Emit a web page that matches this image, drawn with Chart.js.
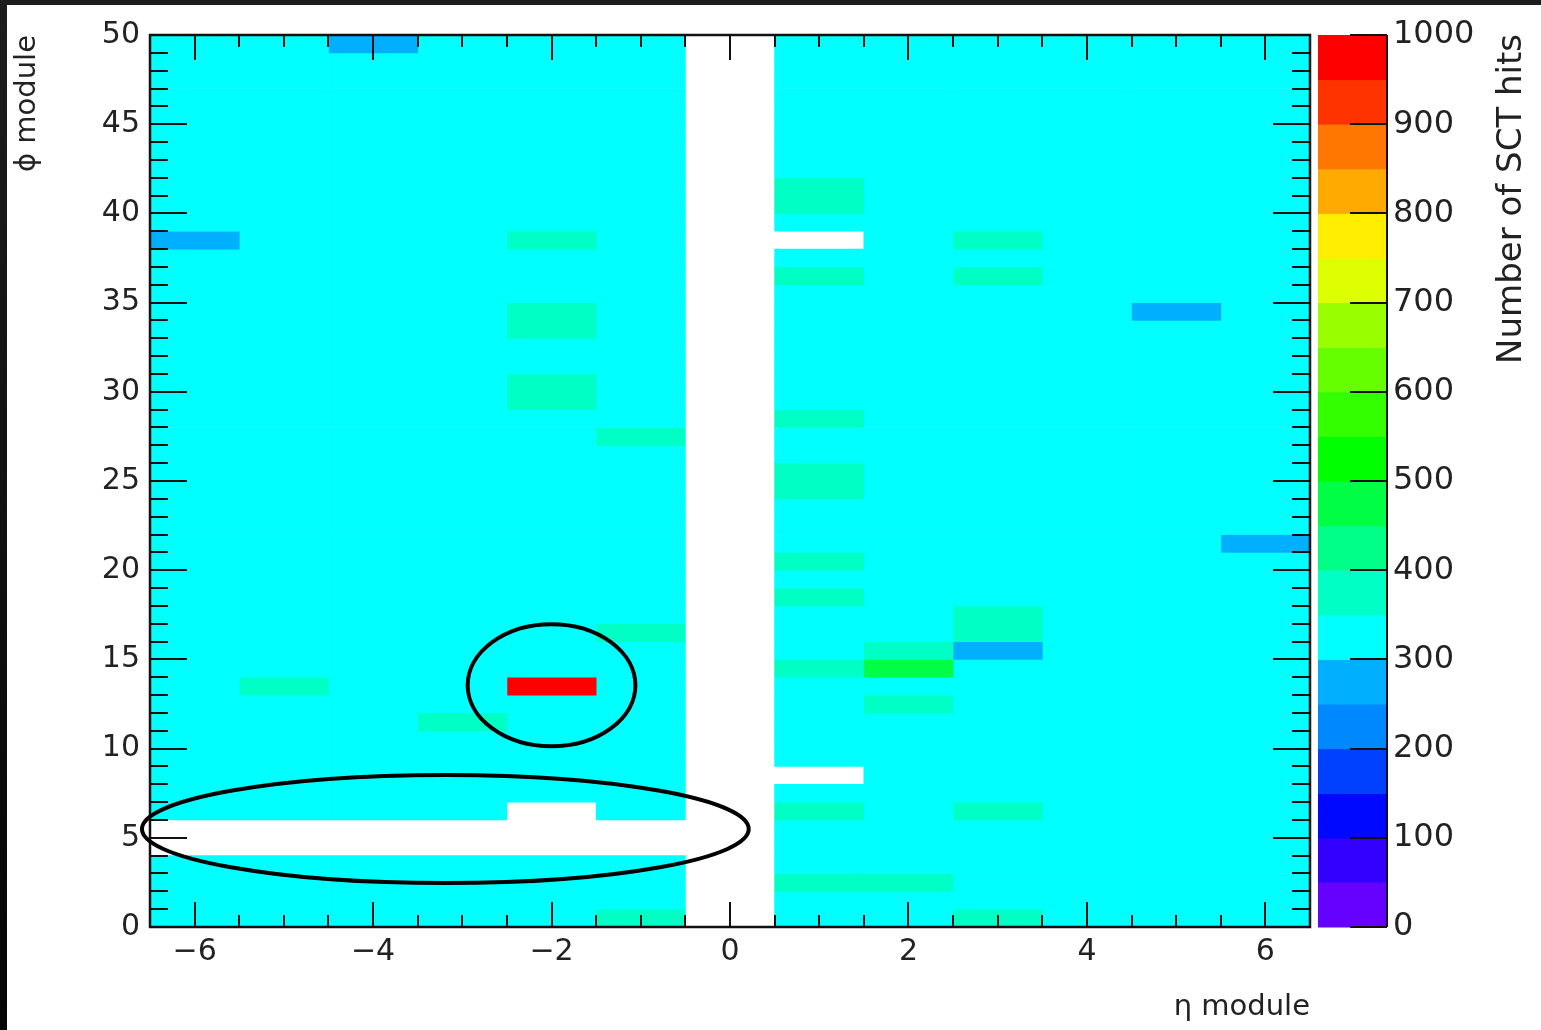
<!DOCTYPE html>
<html>
<head>
<meta charset="utf-8">
<script src="https://cdn.jsdelivr.net/npm/chart.js@4.4.1/dist/chart.umd.min.js"></script>
<style>
  html, body { margin: 0; padding: 0; background: #ffffff; }
  #wrap { position: relative; width: 1541px; height: 1030px; overflow: hidden; background: #ffffff; }
  #c { display: block; }
  .edgeTop { position: absolute; left: 0; top: 0; width: 1541px; height: 5px; background: #1d1d1d; }
  .edgeLeft { position: absolute; left: 0; top: 0; width: 7px; height: 1030px; background: linear-gradient(to bottom, #1d1d1d, #050505); }
</style>
</head>
<body>
<div id="wrap">
  <canvas id="c" width="1541" height="1030"></canvas>
  <div class="edgeTop"></div>
  <div class="edgeLeft"></div>
</div>
<script>
// ---------------- data ----------------
const etaBins = [-6, -5, -4, -3, -2, -1, 0, 1, 2, 3, 4, 5, 6];
const phiBins = [0, 1, 2, 3, 4, 5, 6, 7, 8, 9,
                 10, 11, 12, 13, 14, 15, 16, 17, 18, 19,
                 20, 21, 22, 23, 24, 25, 26, 27, 28, 29,
                 30, 31, 32, 33, 34, 35, 36, 37, 38, 39,
                 40, 41, 42, 43, 44, 45, 46, 47, 48, 49];

// Number of SCT hits per phi bin (index = phi 0..49); null = empty (white) bin
const hitsEtaM6 = [320, 320, 320, 320, null, null, 320, 320, 320, 320,
                   320, 320, 320, 320, 320, 320, 320, 320, 320, 320,
                   320, 320, 320, 320, 320, 320, 320, 320, 320, 320,
                   320, 320, 320, 320, 320, 320, 320, 320, 280, 320,
                   320, 320, 320, 320, 320, 320, 320, 320, 320, 320];
const hitsEtaM5 = [320, 320, 320, 320, null, null, 320, 320, 320, 320,
                   320, 320, 320, 370, 320, 320, 320, 320, 320, 320,
                   320, 320, 320, 320, 320, 320, 320, 320, 320, 320,
                   320, 320, 320, 320, 320, 320, 320, 320, 320, 320,
                   320, 320, 320, 320, 320, 320, 320, 320, 320, 320];
const hitsEtaM4 = [320, 320, 320, 320, null, null, 320, 320, 320, 320,
                   320, 320, 320, 320, 320, 320, 320, 320, 320, 320,
                   320, 320, 320, 320, 320, 320, 320, 320, 320, 320,
                   320, 320, 320, 320, 320, 320, 320, 320, 320, 320,
                   320, 320, 320, 320, 320, 320, 320, 320, 320, 280];
const hitsEtaM3 = [320, 320, 320, 320, null, null, 320, 320, 320, 320,
                   320, 370, 320, 320, 320, 320, 320, 320, 320, 320,
                   320, 320, 320, 320, 320, 320, 320, 320, 320, 320,
                   320, 320, 320, 320, 320, 320, 320, 320, 320, 320,
                   320, 320, 320, 320, 320, 320, 320, 320, 320, 320];
const hitsEtaM2 = [320, 320, 320, 320, null, null, null, 320, 320, 320,
                   320, 320, 320, 980, 320, 320, 320, 320, 320, 320,
                   320, 320, 320, 320, 320, 320, 320, 320, 320, 370,
                   370, 320, 320, 370, 370, 320, 320, 320, 370, 320,
                   320, 320, 320, 320, 320, 320, 320, 320, 320, 320];
const hitsEtaM1 = [370, 320, 320, 320, null, null, 320, 320, 320, 320,
                   320, 320, 320, 320, 320, 320, 370, 320, 320, 320,
                   320, 320, 320, 320, 320, 320, 320, 370, 320, 320,
                   320, 320, 320, 320, 320, 320, 320, 320, 320, 320,
                   320, 320, 320, 320, 320, 320, 320, 320, 320, 320];
const hitsEta0  = [null, null, null, null, null, null, null, null, null, null,
                   null, null, null, null, null, null, null, null, null, null,
                   null, null, null, null, null, null, null, null, null, null,
                   null, null, null, null, null, null, null, null, null, null,
                   null, null, null, null, null, null, null, null, null, null];
const hitsEta1  = [320, 320, 370, 320, 320, 320, 370, 320, null, 320,
                   320, 320, 320, 320, 370, 320, 320, 320, 370, 320,
                   370, 320, 320, 320, 370, 370, 320, 320, 370, 320,
                   320, 320, 320, 320, 320, 320, 370, 320, null, 320,
                   370, 370, 320, 320, 320, 320, 320, 320, 320, 320];
const hitsEta2  = [320, 320, 370, 320, 320, 320, 320, 320, 320, 320,
                   320, 320, 370, 320, 480, 370, 320, 320, 320, 320,
                   320, 320, 320, 320, 320, 320, 320, 320, 320, 320,
                   320, 320, 320, 320, 320, 320, 320, 320, 320, 320,
                   320, 320, 320, 320, 320, 320, 320, 320, 320, 320];
const hitsEta3  = [370, 320, 320, 320, 320, 320, 370, 320, 320, 320,
                   320, 320, 320, 320, 320, 280, 370, 370, 320, 320,
                   320, 320, 320, 320, 320, 320, 320, 320, 320, 320,
                   320, 320, 320, 320, 320, 320, 370, 320, 370, 320,
                   320, 320, 320, 320, 320, 320, 320, 320, 320, 320];
const hitsEta4  = [320, 320, 320, 320, 320, 320, 320, 320, 320, 320,
                   320, 320, 320, 320, 320, 320, 320, 320, 320, 320,
                   320, 320, 320, 320, 320, 320, 320, 320, 320, 320,
                   320, 320, 320, 320, 320, 320, 320, 320, 320, 320,
                   320, 320, 320, 320, 320, 320, 320, 320, 320, 320];
const hitsEta5  = [320, 320, 320, 320, 320, 320, 320, 320, 320, 320,
                   320, 320, 320, 320, 320, 320, 320, 320, 320, 320,
                   320, 320, 320, 320, 320, 320, 320, 320, 320, 320,
                   320, 320, 320, 320, 280, 320, 320, 320, 320, 320,
                   320, 320, 320, 320, 320, 320, 320, 320, 320, 320];
const hitsEta6  = [320, 320, 320, 320, 320, 320, 320, 320, 320, 320,
                   320, 320, 320, 320, 320, 320, 320, 320, 320, 320,
                   320, 280, 320, 320, 320, 320, 320, 320, 320, 320,
                   320, 320, 320, 320, 320, 320, 320, 320, 320, 320,
                   320, 320, 320, 320, 320, 320, 320, 320, 320, 320];

const hitsByEta = [hitsEtaM6, hitsEtaM5, hitsEtaM4, hitsEtaM3, hitsEtaM2, hitsEtaM1,
                   hitsEta0, hitsEta1, hitsEta2, hitsEta3, hitsEta4, hitsEta5, hitsEta6];

// colour scale (z axis): 20 bands of 50 hits
const zTickValues = [0, 100, 200, 300, 400, 500, 600, 700, 800, 900, 1000];
const paletteEdges = [0, 50, 100, 150, 200, 250, 300, 350, 400, 450, 500,
                      550, 600, 650, 700, 750, 800, 850, 900, 950, 1000];
const paletteColors = ['#6600ff', '#3300ff', '#0008ff', '#0040ff', '#0088ff',
                       '#00b0ff', '#00ffff', '#00ffc4', '#00ff88', '#00ff44',
                       '#00ff00', '#33ff00', '#66ff00', '#99ff00', '#ddff00',
                       '#ffee00', '#ffaa00', '#ff7700', '#ff3300', '#ff0000'];

// annotation ellipses (in eta / phi units)
const ellipseCenterEta = [-2.0, -3.19];
const ellipseCenterPhi = [13.55, 5.49];
const ellipseRadiusEta = [0.94, 3.40];
const ellipseRadiusPhi = [3.42, 3.03];

// ---------------- helpers ----------------
function colorFor(v) {
  for (let i = 0; i < paletteColors.length; i++) {
    if (v < paletteEdges[i + 1]) return paletteColors[i];
  }
  return paletteColors[paletteColors.length - 1];
}
const FONT = "'DejaVu Sans', 'Liberation Sans', Arial, sans-serif";
const TEXT = '#222222';

const datasets = etaBins.map((eta, i) => ({
  label: 'eta ' + eta,
  data: phiBins
    .map((phi, k) => ({ x: eta, y: hitsByEta[i][k] === null ? null : [phi, phi + 1], v: hitsByEta[i][k] }))
    .filter(d => d.y !== null),
  backgroundColor: (ctx) => ctx.raw ? colorFor(ctx.raw.v) : 'rgba(0,0,0,0)',
  borderWidth: 0,
  grouped: false,
  categoryPercentage: 1.0,
  barPercentage: 1.0
}));

// ---------------- decorations plugin ----------------
const rootDecor = {
  id: 'rootDecor',
  afterDatasetsDraw(chart) {
    const { ctx, chartArea, scales } = chart;
    const { left, right, top, bottom } = chartArea;
    const x = scales.x, y = scales.y, z = scales.z;
    ctx.save();
    ctx.strokeStyle = '#111';
    ctx.lineWidth = 2;

    // inward ticks, x axis (bottom and top): major at labelled ticks, minor every 0.5
    ctx.beginPath();
    for (let v = x.min; v <= x.max + 1e-9; v += 0.5) {
      const px = Math.round(x.getPixelForValue(v));
      const major = x.ticks.some(t => Math.abs(t.value - v) < 1e-6);
      const len = major ? 25 : 12;
      ctx.moveTo(px, bottom); ctx.lineTo(px, bottom - len);
      ctx.moveTo(px, top); ctx.lineTo(px, top + len);
    }
    // inward ticks, y axis (left and right): major every 5, minor every 1
    for (let v = y.min; v <= y.max + 1e-9; v += 1) {
      const py = Math.round(y.getPixelForValue(v));
      const major = y.ticks.some(t => Math.abs(t.value - v) < 1e-6);
      const len = major ? 37 : 18;
      ctx.moveTo(left, py); ctx.lineTo(left + len, py);
      ctx.moveTo(right, py); ctx.lineTo(right - len, py);
    }
    ctx.stroke();

    // frame
    ctx.lineWidth = 2.5;
    ctx.strokeRect(left, top, right - left, bottom - top);

    // colour bar
    const cbL = z.left + 8, cbR = z.left + 77;
    for (let i = 0; i < paletteColors.length; i++) {
      const y0 = z.getPixelForValue(paletteEdges[i]);
      const y1 = z.getPixelForValue(paletteEdges[i + 1]);
      ctx.fillStyle = paletteColors[i];
      ctx.fillRect(cbL, y1, cbR - cbL, y0 - y1 + 0.5);
    }
    ctx.strokeStyle = '#111';
    ctx.lineWidth = 2;
    ctx.beginPath();
    ctx.moveTo(cbR, z.top); ctx.lineTo(cbR, z.bottom);
    z.ticks.forEach(t => {
      const py = Math.round(z.getPixelForValue(t.value));
      ctx.moveTo(cbR, py); ctx.lineTo(cbR - 37, py);
    });
    ctx.stroke();

    // colour bar title
    ctx.save();
    ctx.translate(1521, 34);
    ctx.rotate(-Math.PI / 2);
    ctx.font = '34px ' + FONT;
    ctx.fillStyle = TEXT;
    ctx.textAlign = 'right';
    ctx.textBaseline = 'alphabetic';
    ctx.fillText('Number of SCT hits', 0, 0);
    ctx.restore();

    // annotation ellipses
    ctx.strokeStyle = '#000';
    ctx.lineWidth = 4;
    for (let i = 0; i < ellipseCenterEta.length; i++) {
      const cx = x.getPixelForValue(ellipseCenterEta[i]);
      const cy = y.getPixelForValue(ellipseCenterPhi[i]);
      const rx = Math.abs(x.getPixelForValue(ellipseCenterEta[i] + ellipseRadiusEta[i]) - cx);
      const ry = Math.abs(y.getPixelForValue(ellipseCenterPhi[i] + ellipseRadiusPhi[i]) - cy);
      ctx.beginPath();
      ctx.ellipse(cx, cy, rx, ry, 0, 0, Math.PI * 2);
      ctx.stroke();
    }
    ctx.restore();
  }
};

Chart.defaults.font.family = FONT;
Chart.defaults.color = TEXT;

new Chart(document.getElementById('c'), {
  type: 'bar',
  data: { datasets },
  options: {
    responsive: false,
    devicePixelRatio: 1,
    animation: false,
    events: [],
    indexAxis: 'x',
    layout: { padding: { top: 35, left: 0, right: 0, bottom: 0 } },
    plugins: { legend: { display: false }, tooltip: { enabled: false }, title: { display: false } },
    scales: {
      x: {
        type: 'linear',
        position: 'bottom',
        min: -6.5, max: 6.5,
        offset: false,
        grid: { display: false, drawTicks: false },
        border: { display: false },
        ticks: {
          stepSize: 2, includeBounds: false, padding: 7,
          font: { size: 30 }, color: TEXT,
          callback: (v) => String(v).replace('-', '\u2212')
        },
        title: { display: true, text: '\u03b7 module', align: 'end', font: { size: 29 }, color: TEXT, padding: { top: 0, bottom: 5 } },
        afterFit: (s) => { s.height = 103; }
      },
      y: {
        type: 'linear',
        position: 'left',
        min: 0, max: 50,
        grid: { display: false, drawTicks: false },
        border: { display: false },
        ticks: { stepSize: 5, includeBounds: false, padding: 10, font: { size: 30 }, color: TEXT },
        title: { display: true, text: '\u03d5 module', align: 'end', font: { size: 29 }, color: TEXT, padding: { top: 10, bottom: 0 } },
        afterFit: (s) => { s.width = 150; }
      },
      z: {
        type: 'linear',
        axis: 'y',
        position: 'right',
        min: 0, max: 1000,
        afterBuildTicks: (s) => { s.ticks = zTickValues.map(v => ({ value: v })); },
        grid: { display: false, drawTicks: true, tickLength: 80 },
        border: { display: false },
        ticks: { padding: 3, font: { size: 32 }, color: TEXT, callback: (v) => String(v) },
        afterFit: (s) => { s.width = 231; }
      }
    }
  },
  plugins: [rootDecor]
});
</script>
</body>
</html>
